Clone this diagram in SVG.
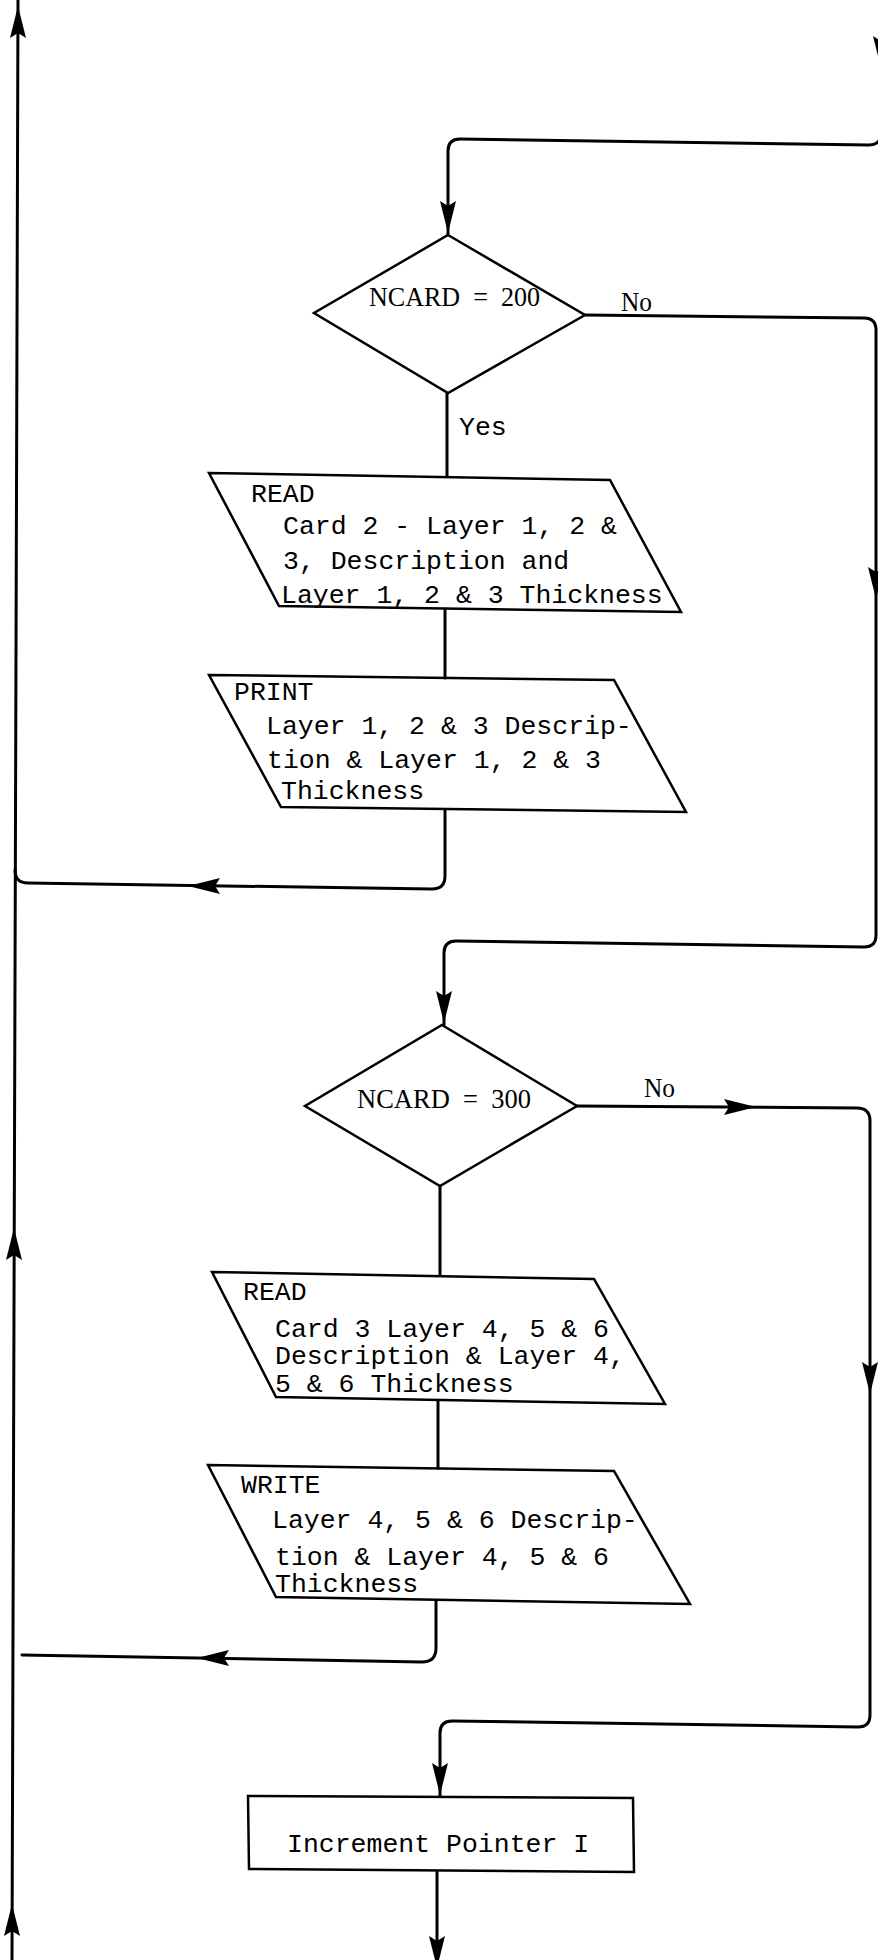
<svg xmlns="http://www.w3.org/2000/svg" width="878" height="1960" viewBox="0 0 878 1960">
<style>
.bg{fill:#fff}
.shape{fill:none;stroke:#000;stroke-width:2.5;stroke-linejoin:miter}
.flow{fill:none;stroke:#000;stroke-width:3;stroke-linejoin:round;stroke-linecap:round}
.tw{font-family:"Liberation Mono","DejaVu Sans Mono",monospace;font-size:26.5px;fill:#000}
.sf{font-family:"Liberation Serif","DejaVu Serif",serif;font-size:27px;fill:#000;white-space:pre}
</style>
<defs>
<path id="ah" d="M0,0 L-8,-32 L0,-27 L8,-32 Z" fill="#000"/>
</defs>
<rect class="bg" x="0" y="0" width="878" height="1960"/>

<g id="connectors">
<path class="flow" d="M881,0 V133 Q881,145 869,145 L460,139 Q448,139 448,151 V235"/>
<use href="#ah" transform="translate(448,233)"/>
<use href="#ah" transform="translate(881,68)"/>
<path class="flow" d="M585,315 L864,318 Q876,318 876,330 V935 Q876,947 864,947 L456,941 Q444,941 444,953 V1025"/>
<use href="#ah" transform="translate(876,599)"/>
<use href="#ah" transform="translate(444,1023)"/>
<path class="flow" d="M447,393 V476"/>
<path class="flow" d="M445,609 V678"/>
<path class="flow" d="M445,810 V876 Q445,889 432,889 L28,883 Q15,883 15,870"/>
<use href="#ah" transform="translate(188,886) rotate(90)"/>
<path class="flow" d="M12,1960 L18,0"/>
<use href="#ah" transform="translate(18,6) rotate(180)"/>
<use href="#ah" transform="translate(14,1228) rotate(180)"/>
<use href="#ah" transform="translate(12,1904) rotate(180)"/>
<path class="flow" d="M440,1186 V1275"/>
<path class="flow" d="M438,1401 V1468"/>
<path class="flow" d="M436,1601 V1648 Q436,1662 422,1662 L22,1655"/>
<use href="#ah" transform="translate(197,1658) rotate(90)"/>
<path class="flow" d="M577,1106 L857,1108 Q870,1108 870,1121 V1715 Q870,1727 858,1727 L452,1721 Q440,1721 440,1733 V1796"/>
<use href="#ah" transform="translate(756,1107) rotate(-90)"/>
<use href="#ah" transform="translate(870,1394)"/>
<use href="#ah" transform="translate(440,1795)"/>
<path class="flow" d="M437,1872 V1960"/>
<use href="#ah" transform="translate(437,1968)"/>
</g>

<g id="decision1">
<polygon class="shape" points="448,235 585,315 448,393 314,313"/>
<text class="sf" xml:space="preserve" x="369" y="306" textLength="171" lengthAdjust="spacingAndGlyphs">NCARD  =  200</text>
</g>
<g id="label-no1"><text class="sf" x="621" y="311" textLength="31" lengthAdjust="spacingAndGlyphs">No</text></g>
<g id="label-yes1"><text class="tw" x="459" y="435">Yes</text></g>

<g id="read1">
<polygon class="shape" points="209,473 610,480 681,612 279,606"/>
<text class="tw" x="251" y="502">READ</text>
<text class="tw" x="283" y="534">Card 2 - Layer 1, 2 &amp;</text>
<text class="tw" x="283" y="569">3, Description and</text>
<text class="tw" x="281" y="603">Layer 1, 2 &amp; 3 Thickness</text>
</g>

<g id="print1">
<polygon class="shape" points="209,675 614,680 686,812 281,807"/>
<text class="tw" x="234" y="700">PRINT</text>
<text class="tw" x="266" y="734">Layer 1, 2 &amp; 3 Descrip-</text>
<text class="tw" x="267" y="768">tion &amp; Layer 1, 2 &amp; 3</text>
<text class="tw" x="281" y="799">Thickness</text>
</g>

<g id="decision2">
<polygon class="shape" points="442,1025 577,1106 440,1186 305,1106"/>
<text class="sf" xml:space="preserve" x="357" y="1108" textLength="174" lengthAdjust="spacingAndGlyphs">NCARD  =  300</text>
</g>
<g id="label-no2"><text class="sf" x="644" y="1097" textLength="31" lengthAdjust="spacingAndGlyphs">No</text></g>

<g id="read2">
<polygon class="shape" points="212,1272 594,1279 665,1404 276,1397"/>
<text class="tw" x="243" y="1300">READ</text>
<text class="tw" x="275" y="1337">Card 3 Layer 4, 5 &amp; 6</text>
<text class="tw" x="275" y="1364">Description &amp; Layer 4,</text>
<text class="tw" x="275" y="1392">5 &amp; 6 Thickness</text>
</g>

<g id="write1">
<polygon class="shape" points="208,1465 614,1471 690,1604 276,1597"/>
<text class="tw" x="241" y="1493">WRITE</text>
<text class="tw" x="272" y="1528">Layer 4, 5 &amp; 6 Descrip-</text>
<text class="tw" x="275" y="1565">tion &amp; Layer 4, 5 &amp; 6</text>
<text class="tw" x="275" y="1592">Thickness</text>
</g>

<g id="increment">
<polygon class="shape" points="248,1796 633,1798 634,1872 249,1869"/>
<text class="tw" x="287" y="1852">Increment Pointer I</text>
</g>
</svg>
